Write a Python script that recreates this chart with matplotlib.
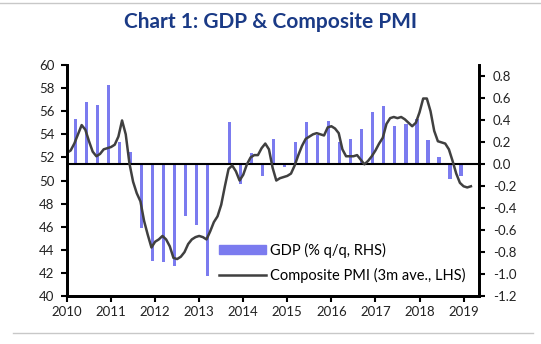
import matplotlib.pyplot as plt
from matplotlib.patches import Patch
from matplotlib.lines import Line2D

# quarterly GDP growth (% q/q), 2010Q1 - 2018Q4
gdp_quarters = [2010 + i * 0.25 for i in range(36)]
gdp = [0.41, 0.56, 0.54, 0.72, 0.20, 0.11, -0.58, -0.88, -0.89, -0.93, -0.47, -0.55,
       -1.02, 0.00, 0.38, -0.18, 0.10, -0.11, 0.23, -0.03, 0.20, 0.38, 0.26, 0.39,
       0.20, 0.23, 0.32, 0.47, 0.53, 0.35, 0.36, 0.41, 0.22, 0.06, -0.14, -0.11]

# composite PMI, 3m average, Jan 2010 - Mar 2019
pmi = [52.4, 52.6, 53.2, 54.0, 54.8, 54.4, 53.4, 52.5, 52.1, 52.3, 52.7, 52.8,
       52.9, 53.1, 53.8, 55.2, 54.0, 51.5, 49.9, 48.9, 48.2, 46.5, 45.3, 44.2,
       44.7, 44.9, 45.2, 44.9, 44.3, 43.3, 43.2, 43.4, 43.8, 44.5, 44.9, 45.1,
       45.2, 45.1, 44.9, 45.6, 46.4, 46.9, 47.9, 49.5, 51.0, 51.3, 50.8, 50.0,
       50.5, 51.4, 52.0, 52.2, 52.2, 52.8, 53.2, 52.7, 51.1, 50.0, 50.2, 50.3,
       50.4, 50.6, 51.3, 52.2, 53.0, 53.6, 53.8, 54.0, 54.1, 54.0, 53.9, 54.6,
       54.7, 54.5, 54.1, 52.7, 52.1, 52.1, 52.1, 52.2, 51.8, 51.4, 51.7, 52.1,
       52.6, 53.2, 53.7, 54.9, 55.4, 55.5, 55.4, 55.5, 55.3, 55.0, 54.7, 55.0,
       55.9, 57.1, 57.1, 56.0, 54.3, 53.4, 53.3, 53.2, 52.7, 51.7, 50.6, 49.8,
       49.5, 49.4, 49.5]
pmi_months = [2010 + m / 12 for m in range(len(pmi))]

years = list(range(2010, 2020))

bar_color = '#7b7bef'
line_color = '#404040'
font = 'Lato'

fig = plt.figure(figsize=(5.41, 3.44), dpi=100)
ax = fig.add_axes([0.1238, 0.1395, 0.7616, 0.6715])
ax2 = ax.twinx()

ax2.bar([q + 0.19 for q in gdp_quarters], gdp, width=0.075, color=bar_color)
ax2.axhline(0, color='black', lw=1.5)
ax2.set_ylim(-1.2, 0.9)
ax2.set_yticks([0.8, 0.6, 0.4, 0.2, 0.0, -0.2, -0.4, -0.6, -0.8, -1.0, -1.2])
ax2.set_yticklabels(['0.8', '0.6', '0.4', '0.2', '0.0', '-0.2', '-0.4', '-0.6',
                     '-0.8', '-1.0', '-1.2'])

ax.plot(pmi_months, pmi, color=line_color, lw=1.8)
ax.set_ylim(40, 60)
ax.set_yticks(range(40, 61, 2))
ax.set_xlim(2010, 2019.35)
ax.set_xticks(years)
ax.set_zorder(ax2.get_zorder() + 1)
ax.patch.set_visible(False)

for a in (ax, ax2):
    a.spines['top'].set_visible(False)
    for s in ('left', 'right', 'bottom'):
        a.spines[s].set_linewidth(2)
    a.tick_params(direction='out', length=4, width=1.5, labelsize=9.5,
                  colors='black')
    for lab in a.get_xticklabels() + a.get_yticklabels():
        lab.set_fontfamily(font)
        lab.set_color('#222222')
ax.tick_params(axis='y', pad=5)
ax2.tick_params(axis='y', pad=6)

handles = [Patch(color=bar_color), Line2D([], [], color=line_color, lw=1.8)]
leg = ax.legend(handles, ['GDP (% q/q, RHS)', 'Composite PMI (3m ave., LHS)'],
                loc='lower right', bbox_to_anchor=(1.0, 0.0), frameon=False,
                handlelength=3.2, handleheight=0.5, handletextpad=0.3,
                labelspacing=0.7, prop={'family': font, 'size': 10.5})

fig.text(0.5, 0.935, 'Chart 1: GDP & Composite PMI', ha='center', va='center',
         fontsize=15, fontweight='bold', color='#1a3a86', family=font)
fig.add_artist(Line2D([0, 1], [0.992, 0.992], color='#c8c8c8', lw=1))
fig.add_artist(Line2D([0.024, 0.985], [0.032, 0.032], color='#c8c8c8', lw=1))

fig.savefig('out.png', dpi=100)
